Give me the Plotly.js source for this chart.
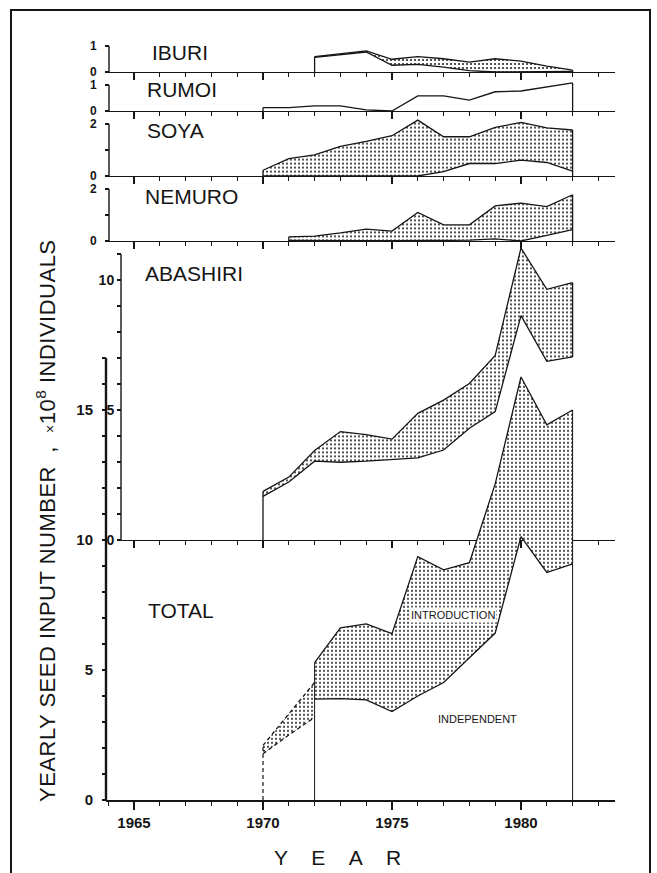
<!DOCTYPE html>
<html>
<head>
<meta charset="utf-8">
<script src="https://cdn.plot.ly/plotly-3.0.1.min.js"></script>
<style>
html,body{margin:0;padding:0;background:#ffffff;}
#chart{width:657px;height:873px;}
</style>
</head>
<body>
<div id="chart"></div>
<script>
// ---------------- DATA (x10^8 individuals) ----------------
const panelNames = ['IBURI', 'RUMOI', 'SOYA', 'NEMURO', 'ABASHIRI', 'TOTAL'];
const xTickYears = [1965, 1970, 1975, 1980];
const xTickLabels = ['1965', '1970', '1975', '1980'];

const iburiYears = [1972, 1973, 1974, 1975, 1976, 1977, 1978, 1979, 1980, 1981, 1982];
const iburiTotal = [0.59, 0.69, 0.81, 0.49, 0.59, 0.51, 0.38, 0.51, 0.42, 0.23, 0.07];
const iburiIndependent = [0.56, 0.67, 0.77, 0.26, 0.29, 0.19, 0.05, 0.00, 0.00, 0.00, 0.02];

const rumoiYears = [1970, 1971, 1972, 1973, 1974, 1975, 1976, 1977, 1978, 1979, 1980, 1981, 1982];
const rumoiTotal = [0.13, 0.13, 0.20, 0.20, 0.04, 0.00, 0.58, 0.58, 0.42, 0.74, 0.77, 0.93, 1.08];

const soyaYears = [1970, 1971, 1972, 1973, 1974, 1975, 1976, 1977, 1978, 1979, 1980, 1981, 1982];
const soyaTotal = [0.22, 0.67, 0.81, 1.14, 1.33, 1.55, 2.15, 1.51, 1.51, 1.87, 2.06, 1.85, 1.77];
const soyaIndependent = [0.00, 0.00, 0.00, 0.00, 0.00, 0.00, 0.00, 0.17, 0.48, 0.48, 0.61, 0.52, 0.19];

const nemuroYears = [1971, 1972, 1973, 1974, 1975, 1976, 1977, 1978, 1979, 1980, 1981, 1982];
const nemuroTotal = [0.16, 0.19, 0.31, 0.46, 0.38, 1.10, 0.62, 0.62, 1.35, 1.46, 1.32, 1.78];
const nemuroIndependent = [0.02, 0.01, 0.01, 0.01, 0.01, 0.01, 0.01, 0.03, 0.08, 0.00, 0.22, 0.44];

const abashiriYears = [1970, 1971, 1972, 1973, 1974, 1975, 1976, 1977, 1978, 1979, 1980, 1981, 1982];
const abashiriTotal = [1.87, 2.42, 3.44, 4.17, 4.05, 3.88, 4.87, 5.38, 6.02, 7.10, 11.23, 9.64, 9.90];
const abashiriIndependent = [1.68, 2.23, 3.03, 2.99, 3.03, 3.09, 3.16, 3.46, 4.30, 4.94, 8.63, 6.87, 7.04];

// estimated (dashed) part of the total
const totalEstYears = [1970, 1971, 1972];
const totalEstTotal = [2.10, 3.30, 4.52];
const totalEstIndependent = [1.78, 2.50, 3.18];

const totalYears = [1972, 1973, 1974, 1975, 1976, 1977, 1978, 1979, 1980, 1981, 1982];
const totalTotal = [5.28, 6.62, 6.77, 6.40, 9.36, 8.85, 9.13, 12.16, 16.27, 14.43, 15.00];
const totalIndependent = [3.88, 3.90, 3.85, 3.40, 4.00, 4.52, 5.47, 6.42, 10.13, 8.75, 9.08];

// ---------------- GEOMETRY / STYLE ----------------
const W = 657, H = 873;
const X1970 = 263, PXYR = 25.8, UNIT = 26;
const yrAt = px => 1970 + (px - X1970) / PXYR;
const fx = px => px / W;
const fy = px => 1 - px / H;
const INK = '#151515';
const FONT = 'Liberation Sans, Arial, sans-serif';
const X_END = 615;

const panels = [
  {base: 72,  hi: 1.0,  top: 1,  axisX: 109, tv: [0, 1], tl: ['0', '1'], so: 6, lx: 150, ly: 52},
  {base: 111, hi: 1.3,  top: 1,  axisX: 109, tv: [0, 1], tl: ['0', '1'], so: 6, lx: 145, ly: 90},
  {base: 176, hi: 2.4,  top: 2,  axisX: 109, tv: [0, 1, 2], tl: ['0', '', '2'], so: 6, lx: 145, ly: 130},
  {base: 241, hi: 2.1,  top: 2,  axisX: 109, tv: [0, 1, 2], tl: ['0', '', '2'], so: 6, lx: 143, ly: 197},
  {base: 540, hi: 11.6, top: 11, axisX: 121, tv: [0,1,2,3,4,5,6,7,8,9,10,11], tl: ['0','','','','','5','','','','','10',''], so: 0, lx: 143, ly: 273},
  {base: 800, hi: 17.2, top: 17, axisX: 106, tv: [0,1,2,3,4,5,6,7,8,9,10,11,12,13,14,15,16,17], tl: ['0','','','','','5','','','','','10','','','','','15','',''], so: 6, lx: 146, ly: 610}
];

const pattern = {shape: '.', fgcolor: '#2a2a2a', bgcolor: '#ffffff', size: 4, solidity: 0.22};

const layout = {
  width: W, height: H,
  margin: {l: 0, r: 0, t: 0, b: 0},
  paper_bgcolor: '#ffffff',
  plot_bgcolor: 'rgba(0,0,0,0)',
  showlegend: false,
  font: {family: FONT, color: INK},
  shapes: [],
  annotations: []
};

panels.forEach((p, i) => {
  const k = i + 1;
  const xs = k === 1 ? '' : String(k);
  const isTotal = k === 6;
  const small = k <= 4;
  layout['xaxis' + xs] = {
    domain: [fx(p.axisX), fx(X_END)],
    range: [yrAt(p.axisX), yrAt(X_END)],
    anchor: 'y' + xs,
    showline: true, linecolor: INK, linewidth: isTotal ? 2.4 : 1.4,
    ticks: 'outside', tickvals: xTickYears, ticktext: xTickLabels,
    ticklen: isTotal ? 8 : 7, tickwidth: 1.4, tickcolor: INK,
    minor: {tickmode: 'linear', tick0: 1965, dtick: 1, ticks: 'outside', ticklen: 4, tickwidth: 1.2, tickcolor: INK},
    showticklabels: isTotal,
    tickfont: {family: FONT, size: 15, color: INK, weight: 'bold'},
    showgrid: false, zeroline: false, fixedrange: true
  };
  layout['yaxis' + xs] = {
    domain: [fy(p.base), fy(p.base - p.hi * UNIT)],
    range: [0, p.hi],
    anchor: 'free', position: fx(p.axisX),
    showline: false,
    ticks: 'outside', tickvals: p.tv, ticktext: p.tl,
    ticklen: 4, tickwidth: 1.3, tickcolor: INK,
    ticklabelstandoff: p.so,
    tickfont: {family: FONT, size: small ? 12 : (isTotal ? 15 : 14), color: INK, weight: 'bold'},
    showgrid: false, zeroline: false, fixedrange: true
  };
  // y axis line up to the top tick
  layout.shapes.push({type: 'line', xref: 'paper', yref: 'y' + xs,
    x0: fx(p.axisX), x1: fx(p.axisX), y0: 0, y1: p.top,
    line: {color: INK, width: isTotal ? 2.4 : 1.4}});
  // panel name
  layout.annotations.push({text: panelNames[i], xref: 'paper', yref: 'paper',
    x: fx(p.lx), y: fy(p.ly), xanchor: 'left', yanchor: 'middle', showarrow: false,
    font: {family: FONT, size: 21, color: INK}});
});

// frame
layout.shapes.push({type: 'rect', xref: 'paper', yref: 'paper', layer: 'below',
  x0: fx(11), x1: fx(650), y0: -0.05, y1: fy(10), line: {color: INK, width: 2}});

// axis titles
layout.annotations.push({text: '<span style="letter-spacing:0.5px">YEARLY SEED INPUT NUMBER \u00a0,\u00a0 <span style="font-size:14px">×</span>10<sup>8</sup> INDIVIDUALS</span>',
  xref: 'paper', yref: 'paper', x: fx(46), y: fy(521), textangle: -90,
  xanchor: 'center', yanchor: 'middle', showarrow: false,
  font: {family: FONT, size: 22, color: INK}});
layout.annotations.push({text: 'Y\u00a0\u00a0\u00a0\u00a0E\u00a0\u00a0\u00a0\u00a0A\u00a0\u00a0\u00a0\u00a0R',
  xref: 'paper', yref: 'paper', x: fx(337), y: fy(857),
  xanchor: 'center', yanchor: 'middle', showarrow: false,
  font: {family: FONT, size: 21, color: INK}});
// in-plot labels
layout.annotations.push({text: 'INTRODUCTION', xref: 'x6', yref: 'y6', x: 1977.36, y: 7.1,
  showarrow: false, bgcolor: '#ffffff', borderpad: 1,
  font: {family: FONT, size: 11, color: INK}});
layout.annotations.push({text: 'INDEPENDENT', xref: 'x6', yref: 'y6', x: 1978.3, y: 3.1,
  showarrow: false, font: {family: FONT, size: 11, color: INK}});

// ---------------- TRACES ----------------
const traces = [];
function ax(k) { const s = k === 1 ? '' : String(k); return {xaxis: 'x' + s, yaxis: 'y' + s}; }
function line(k, x, y, extra) {
  return Object.assign({type: 'scatter', mode: 'lines', x: x, y: y, hoverinfo: 'skip',
    line: {color: INK, width: 1.3}}, ax(k), extra || {});
}
function band(k, x, lower, upper, dash) {
  traces.push(line(k, x, lower, {line: {color: INK, width: 1.3, dash: dash || 'solid'}}));
  traces.push(line(k, x, upper, {line: {color: INK, width: 1.3, dash: dash || 'solid'},
    fill: 'tonexty', fillcolor: 'rgba(0,0,0,0)', fillpattern: pattern}));
}
function edge(k, xv, y0, y1, extra) {
  traces.push(line(k, [xv, xv], [y0, y1], extra));
}
const last = a => a[a.length - 1];
const SHORT_DASH = '4px,3px';

// IBURI
band(1, iburiYears, iburiIndependent, iburiTotal);
edge(1, iburiYears[0], 0, iburiTotal[0]);
edge(1, last(iburiYears), 0, last(iburiTotal));
// RUMOI
traces.push(line(2, rumoiYears, rumoiTotal));
edge(2, rumoiYears[0], 0, rumoiTotal[0]);
edge(2, last(rumoiYears), 0, last(rumoiTotal));
// SOYA
band(3, soyaYears, soyaIndependent, soyaTotal);
edge(3, soyaYears[0], 0, soyaTotal[0]);
edge(3, last(soyaYears), 0, last(soyaTotal));
// NEMURO
band(4, nemuroYears, nemuroIndependent, nemuroTotal);
edge(4, nemuroYears[0], 0, nemuroTotal[0]);
edge(4, last(nemuroYears), 0, last(nemuroTotal));
// ABASHIRI
band(5, abashiriYears, abashiriIndependent, abashiriTotal);
edge(5, abashiriYears[0], 0, abashiriTotal[0]);
edge(5, last(abashiriYears), last(abashiriIndependent), last(abashiriTotal));
// TOTAL
band(6, totalEstYears, totalEstIndependent, totalEstTotal, SHORT_DASH);
edge(6, totalEstYears[0], 0, totalEstTotal[0], {line: {color: INK, width: 1.2, dash: SHORT_DASH}});
band(6, totalYears, totalIndependent, totalTotal);
edge(6, totalYears[0], 0, totalTotal[0], {line: {color: INK, width: 1}});
edge(6, last(totalYears), 0, last(totalTotal), {line: {color: INK, width: 1}});

Plotly.newPlot('chart', traces, layout, {displayModeBar: false, staticPlot: true});
</script>
</body>
</html>
